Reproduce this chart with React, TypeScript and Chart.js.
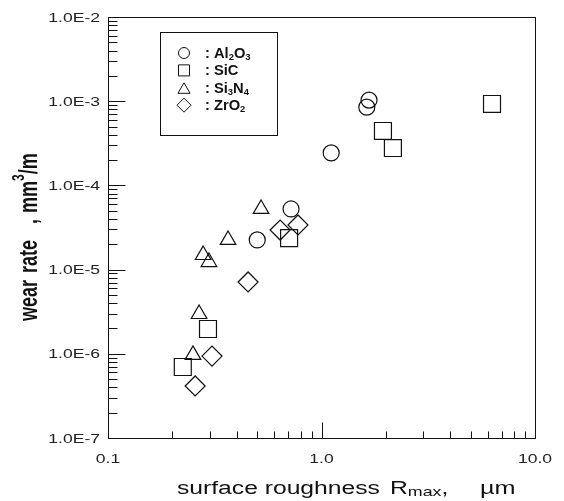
import { useEffect, useRef } from "react";
import { Chart, registerables } from "chart.js";
import { drawPoint } from "chart.js/helpers";

Chart.register(...registerables);

// Surface roughness Rmax (µm) and wear rate (mm³/m) for each ceramic
const al2o3X = [1.67, 1.63, 1.11, 0.72, 0.5];
const al2o3Y = [1.03e-3, 8.5e-4, 2.43e-4, 5.25e-5, 2.25e-5];

const sicX = [6.29, 1.94, 2.16, 0.705, 0.294, 0.224];
const sicY = [9.27e-4, 4.43e-4, 2.78e-4, 2.37e-5, 1.97e-6, 6.97e-7];

const si3n4X = [0.521, 0.365, 0.279, 0.297, 0.267, 0.25];
const si3n4Y = [5.25e-5, 2.25e-5, 1.49e-5, 1.23e-5, 2.97e-6, 9.7e-7];

const zro2X = [0.64, 0.776, 0.453, 0.307, 0.256];
const zro2Y = [2.95e-5, 3.39e-5, 7.13e-6, 9.4e-7, 4.15e-7];

// Decade ticks and their labels
const xTicks = [0.1, 1, 10];
const xTickLabels = ["0.1", "1.0", "10.0"];
const yTicks = [1e-7, 1e-6, 1e-5, 1e-4, 1e-3, 1e-2];
const yTickLabels = ["1.0E-7", "1.0E-6", "1.0E-5", "1.0E-4", "1.0E-3", "1.0E-2"];

// Legend labels: [text, subscript?]
const labelAl2O3: [string, boolean][] = [[": Al", false], ["2", true], ["O", false], ["3", true]];
const labelSiC: [string, boolean][] = [[": SiC", false]];
const labelSi3N4: [string, boolean][] = [[": Si", false], ["3", true], ["N", false], ["4", true]];
const labelZrO2: [string, boolean][] = [[": ZrO", false], ["2", true]];

const FONT = '"Liberation Sans", Arial, Helvetica, sans-serif';
const INK = "#111";

type Seg = { text: string; size: number; bold?: boolean; dy?: number };

// Draws a run of text pieces, optionally widened horizontally by sx
function drawRun(ctx: CanvasRenderingContext2D, segs: Seg[], x: number, y: number, sx: number, align: "left" | "center" | "right") {
  const widths = segs.map((s) => {
    ctx.font = `${s.bold ? "bold " : ""}${s.size}px ${FONT}`;
    return ctx.measureText(s.text).width * sx;
  });
  const total = widths.reduce((a, b) => a + b, 0);
  let cx = align === "left" ? x : align === "center" ? x - total / 2 : x - total;
  segs.forEach((s, i) => {
    ctx.save();
    ctx.font = `${s.bold ? "bold " : ""}${s.size}px ${FONT}`;
    ctx.textAlign = "left";
    ctx.textBaseline = "alphabetic";
    ctx.translate(cx, y + (s.dy || 0));
    ctx.scale(sx, 1);
    ctx.fillText(s.text, 0, 0);
    ctx.restore();
    cx += widths[i];
  });
}

const frame = {
  id: "frame",
  afterDraw(chart: any) {
    const { ctx, chartArea: a } = chart;
    const xs = chart.scales.x;
    const ys = chart.scales.y;
    const L = Math.round(a.left) + 0.5;
    const R = Math.round(a.right) + 0.5;
    const T = Math.round(a.top) + 0.5;
    const B = Math.round(a.bottom) + 0.5;
    ctx.save();
    ctx.strokeStyle = INK;
    ctx.fillStyle = INK;
    ctx.lineWidth = 1;
    ctx.strokeRect(L, T, R - L, B - T);

    // inward ticks on the left and bottom axes
    ctx.beginPath();
    yTicks.forEach((d, i) => {
      if (i > 0 && i < yTicks.length - 1) {
        const py = Math.round(ys.getPixelForValue(d)) + 0.5;
        ctx.moveTo(L, py);
        ctx.lineTo(L + 17, py);
      }
      if (i < yTicks.length - 1) {
        for (let m = 2; m <= 9; m++) {
          const py = Math.round(ys.getPixelForValue(m * d)) + 0.5;
          ctx.moveTo(L, py);
          ctx.lineTo(L + 9, py);
        }
      }
    });
    xTicks.forEach((d, i) => {
      if (i > 0 && i < xTicks.length - 1) {
        const px = Math.round(xs.getPixelForValue(d)) + 0.5;
        ctx.moveTo(px, B);
        ctx.lineTo(px, B - 16);
      }
      if (i < xTicks.length - 1) {
        for (let m = 2; m <= 9; m++) {
          const px = Math.round(xs.getPixelForValue(m * d)) + 0.5;
          ctx.moveTo(px, B);
          ctx.lineTo(px, B - 7);
        }
      }
    });
    ctx.stroke();

    // tick labels
    ctx.fillStyle = "#222";
    yTicks.forEach((d, i) => {
      const py = ys.getPixelForValue(d);
      drawRun(ctx, [{ text: yTickLabels[i], size: 13 }], a.left - 8, py + 4.6, 1.35, "right");
    });
    xTicks.forEach((d, i) => {
      const px = xs.getPixelForValue(d);
      drawRun(ctx, [{ text: xTickLabels[i], size: 13 }], px, a.bottom + 25, 1.35, "center");
    });

    // x-axis title
    ctx.fillStyle = INK;
    drawRun(ctx, [{ text: "surface roughness", size: 18 }], a.left + 69, a.bottom + 56, 1.37, "left");
    drawRun(
      ctx,
      [
        { text: "R", size: 18 },
        { text: "max", size: 13, dy: 2 },
        { text: ",", size: 18 },
      ],
      a.left + 282,
      a.bottom + 56,
      1.37,
      "left"
    );
    drawRun(ctx, [{ text: "µm", size: 18 }], a.left + 372, a.bottom + 56, 1.4, "left");

    // y-axis title, rotated
    ctx.save();
    ctx.translate(37, 321);
    ctx.rotate(-Math.PI / 2);
    ctx.scale(1, 1.4);
    drawRun(ctx, [{ text: "wear", size: 18, bold: true }], 0, 0, 1, "left");
    drawRun(ctx, [{ text: "rate", size: 18, bold: true }], 48, 0, 1, "left");
    drawRun(ctx, [{ text: ",", size: 18, bold: true }], 97, 0, 1, "left");
    drawRun(
      ctx,
      [
        { text: "mm", size: 18, bold: true },
        { text: "3", size: 12, bold: true, dy: -9 },
        { text: "/m", size: 18, bold: true },
      ],
      108,
      0,
      1,
      "left"
    );
    ctx.restore();

    // legend box
    const lx = a.left + 52;
    const ly = a.top + 15;
    ctx.strokeRect(Math.round(lx) + 0.5, Math.round(ly) + 0.5, 117, 103);
    const entries: { style: string; r: number; label: [string, boolean][] }[] = [
      { style: "circle", r: 5.5, label: labelAl2O3 },
      { style: "rect", r: 7.8, label: labelSiC },
      { style: "triangle", r: 7, label: labelSi3N4 },
      { style: "rectRot", r: 7, label: labelZrO2 },
    ];
    entries.forEach((e, i) => {
      const cy = ly + 21 + i * 17.4;
      ctx.save();
      ctx.strokeStyle = INK;
      ctx.fillStyle = "rgba(0,0,0,0)";
      drawPoint(ctx, { pointStyle: e.style as any, radius: e.r, rotation: 0, borderWidth: 1 }, lx + 24, e.style === "triangle" ? cy + 2 : cy);
      ctx.restore();
      ctx.fillStyle = INK;
      drawRun(
        ctx,
        e.label.map(([t, sub]) => (sub ? { text: t, size: 9, bold: true, dy: 2 } : { text: t, size: 14, bold: true })),
        lx + 45,
        cy + 5,
        1.05,
        "left"
      );
    });
    ctx.restore();
  },
};

function points(xs: number[], ys: number[]) {
  return xs.map((x, i) => ({ x, y: ys[i] }));
}

export default function App() {
  const ref = useRef<HTMLCanvasElement | null>(null);

  useEffect(() => {
    if (!ref.current) return;
    const common = {
      borderColor: INK,
      backgroundColor: "rgba(0,0,0,0)",
      borderWidth: 1.2,
      showLine: false,
    };
    const chart = new Chart(ref.current, {
      type: "scatter",
      data: {
        datasets: [
          { ...common, label: "Al2O3", data: points(al2o3X, al2o3Y), pointStyle: "circle", pointRadius: 8 },
          { ...common, label: "SiC", data: points(sicX, sicY), pointStyle: "rect", pointRadius: 12 },
          { ...common, label: "Si3N4", data: points(si3n4X, si3n4Y), pointStyle: "triangle", pointRadius: 9 },
          { ...common, label: "ZrO2", data: points(zro2X, zro2Y), pointStyle: "rectRot", pointRadius: 10 },
        ],
      },
      options: {
        responsive: false,
        animation: false,
        layout: { padding: { left: 108, top: 17, right: 29, bottom: 63 } },
        scales: {
          x: { type: "logarithmic", min: 0.1, max: 10, display: false },
          y: { type: "logarithmic", min: 1e-7, max: 1e-2, display: false },
        },
        plugins: {
          legend: { display: false },
          tooltip: { enabled: false },
        },
        elements: { point: { hoverRadius: 8 } },
      },
      plugins: [frame],
    });
    return () => chart.destroy();
  }, []);

  return (
    <div style={{ position: "fixed", left: 0, top: 0, width: 564, height: 501, background: "#fff" }}>
      <canvas ref={ref} width={564} height={501} style={{ display: "block" }} />
    </div>
  );
}
